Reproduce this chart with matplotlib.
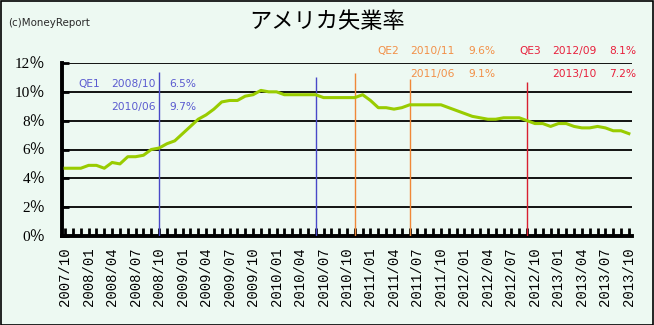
import matplotlib
matplotlib.use("Agg")
import matplotlib.pyplot as plt
import pandas as pd
from matplotlib.patches import Rectangle

# ---- data ----
months = [d.strftime("%Y/%m") for d in pd.date_range("2007-10-01", "2013-10-01", freq="MS")]
rate = [4.7, 4.7, 4.7, 4.9, 4.9, 4.7, 5.1, 5.0, 5.5, 5.5, 5.6, 6.0, 6.1, 6.4, 6.6,
        7.1, 7.6, 8.1, 8.4, 8.8, 9.3, 9.4, 9.4, 9.7, 9.8, 10.1, 10.0, 10.0, 9.8, 9.8,
        9.8, 9.8, 9.8, 9.6, 9.6, 9.6, 9.6, 9.6, 9.8, 9.4, 8.9, 8.9, 8.8, 8.9, 9.1,
        9.1, 9.1, 9.1, 9.1, 8.9, 8.7, 8.5, 8.3, 8.2, 8.1, 8.1, 8.2, 8.2, 8.2, 8.0,
        7.8, 7.8, 7.6, 7.8, 7.8, 7.6, 7.5, 7.5, 7.6, 7.5, 7.3, 7.3, 7.1]
yticks = [0, 2, 4, 6, 8, 10, 12]

qe_names = ["QE1", "QE2", "QE3"]
qe_start = ["2008/10", "2010/11", "2012/09"]
qe_start_rate = [6.5, 9.6, 8.1]
qe_end = ["2010/06", "2011/06", "2013/10"]
qe_end_rate = [9.7, 9.1, 7.2]
qe_colors_line = ["#4848c8", "#f08838", "#d82030"]
qe_colors_text = ["#5a5ad0", "#f29048", "#e8203c"]
vline_dates = ["2008/10", "2010/06", "2010/11", "2011/06", "2012/09"]
vline_top = [11.4, 11.0, 11.3, 10.9, 10.7]
vline_col = [0, 0, 1, 1, 2]

bg = "#edf9f2"
W, H = 654, 325
fig = plt.figure(figsize=(W / 100, H / 100), dpi=100, facecolor=bg)
ax = fig.add_axes([62 / W, 1 - 236 / H, (632 - 62) / W, (236 - 63) / H])
ax.set_facecolor(bg)

x = list(range(len(months)))
ax.plot(x, rate, color="#99cc00", lw=2.2, zorder=5)

for t in yticks[1:]:
    ax.axhline(t, color="black", lw=1.3, zorder=2)

for d, top, c in zip(vline_dates, vline_top, vline_col):
    ax.vlines(months.index(d), 0, top, color=qe_colors_line[c], lw=1.0, zorder=3)

ax.set_xlim(-0.4, len(months) - 1 + 0.4)
ax.set_ylim(0, 12)
for s in ["top", "right"]:
    ax.spines[s].set_visible(False)
ax.spines["left"].set_linewidth(2.8)
ax.spines["bottom"].set_linewidth(2.8)

ax.set_yticks(yticks)
ax.set_yticklabels([f"{v}％" for v in yticks],
                   fontfamily=["Liberation Serif", "Noto Sans CJK JP", "DejaVu Sans"],
                   fontsize=11)
ax.tick_params(axis="y", direction="in", length=5, width=2, pad=12)

ax.set_xticks(x)
ax.set_xticklabels([m if i % 3 == 0 else "" for i, m in enumerate(months)],
                   rotation=90, fontfamily="Liberation Mono", fontsize=10)
ax.tick_params(axis="x", direction="in", length=6, width=2, pad=8)

# annotations
def px(xp, yp):
    return xp / W, 1 - yp / H

kw = dict(fontsize=7.7, va="center", ha="left", fontfamily="DejaVu Sans")
pos = [(78, 111, 169, 84, 107), (377, 410, 468, 51, 74), (519, 552, 609, 51, 74)]
for k in range(3):
    xn, xd, xv, y1, y2 = pos[k]
    c = qe_colors_text[k]
    fig.text(*px(xn, y1), qe_names[k], color=c, **kw)
    fig.text(*px(xd, y1), qe_start[k], color=c, **kw)
    fig.text(*px(xv, y1), f"{qe_start_rate[k]}%", color=c, **kw)
    fig.text(*px(xd, y2), qe_end[k], color=c, **kw)
    fig.text(*px(xv, y2), f"{qe_end_rate[k]}%", color=c, **kw)

fig.text(*px(327, 22), "アメリカ失業率", fontsize=16, ha="center", va="center",
         fontfamily=["Noto Sans CJK JP", "DejaVu Sans"], color="black")
fig.text(*px(8, 23), "(c)MoneyReport", fontsize=7.4, ha="left", va="center",
         fontfamily="DejaVu Sans", color="#2a2a2a")

fig.patches.append(Rectangle((0.5 / W, 0.5 / H), (W - 1.5) / W, (H - 1.5) / H,
                             transform=fig.transFigure, fill=False, edgecolor="black",
                             lw=1.2, figure=fig))

fig.savefig("out.png", dpi=100, facecolor=bg)
